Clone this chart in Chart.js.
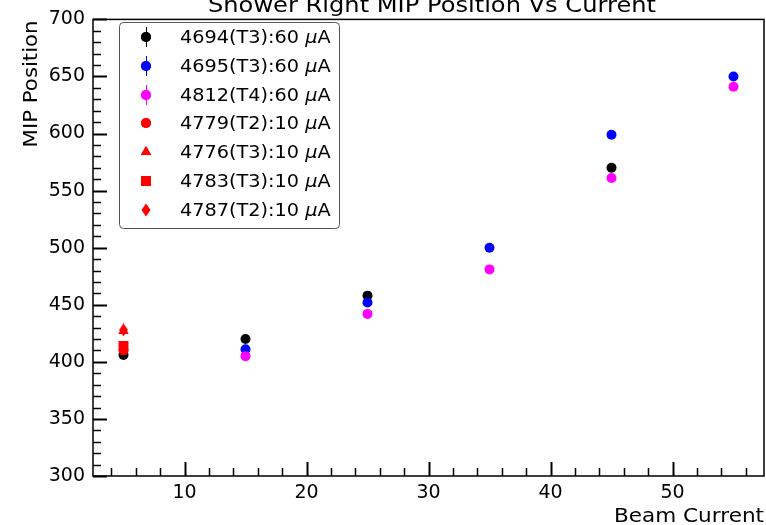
<!DOCTYPE html>
<html>
<head>
<meta charset="utf-8">
<script src="https://cdn.jsdelivr.net/npm/chart.js@4/dist/chart.umd.min.js"></script>
<style>
  html, body { margin: 0; padding: 0; background: #fff; }
  #wrap { width: 766px; height: 525px; }
</style>
</head>
<body>
<div id="wrap"><canvas id="mip"></canvas></div>
<script>
// ---- data ----
var seriesNames = ['4694(T3):60 ', '4695(T3):60 ', '4812(T4):60 ', '4779(T2):10 ', '4776(T3):10 ', '4783(T3):10 ', '4787(T2):10 '];
var seriesColors = ['#000000', '#0000ff', '#ff00ff', '#ff0000', '#ff0000', '#ff0000', '#ff0000'];
var seriesShapes = ['circle', 'circle', 'circle', 'circle', 'triangle', 'rect', 'thinDiamond'];
var seriesRadius = [5, 5, 5, 5, 6, 7, 6];

var run4694x = [5, 15, 25, 45];
var run4694y = [406, 420, 458, 570];
var run4695x = [15, 25, 35, 45, 55];
var run4695y = [411, 452, 500, 599, 650];
var run4812x = [15, 25, 35, 45, 55];
var run4812y = [405, 442, 481, 561, 641];
var run4779x = [5];
var run4779y = [410];
var run4776x = [5];
var run4776y = [427];
var run4783x = [5];
var run4783y = [414];
var run4787x = [5];
var run4787y = [428];

var xTicks = [10, 20, 30, 40, 50];
var yTicks = [300, 350, 400, 450, 500, 550, 600, 650, 700];

var allX = [run4694x, run4695x, run4812x, run4779x, run4776x, run4783x, run4787x];
var allY = [run4694y, run4695y, run4812y, run4779y, run4776y, run4783y, run4787y];

function pts(xs, ys) {
  var out = [];
  for (var i = 0; i < xs.length; i++) out.push({x: xs[i], y: ys[i]});
  return out;
}

// matplotlib style thin diamond marker
function diamondPath(g, x, y) {
  g.beginPath();
  g.moveTo(x, y - 6.5); g.lineTo(x + 4.5, y); g.lineTo(x, y + 6.5); g.lineTo(x - 4.5, y);
  g.closePath();
}
function thinDiamond(color) {
  var c = document.createElement('canvas');
  c.width = 9; c.height = 13;
  var g = c.getContext('2d');
  g.fillStyle = color;
  diamondPath(g, 4.5, 6.5);
  g.fill();
  return c;
}
var diamondImg = thinDiamond('#ff0000');

var datasets = [];
for (var i = 0; i < seriesNames.length; i++) {
  datasets.push({
    label: seriesNames[i],
    data: pts(allX[i], allY[i]),
    pointStyle: seriesShapes[i] === 'thinDiamond' ? diamondImg : seriesShapes[i],
    pointRadius: seriesRadius[i],
    pointHoverRadius: seriesRadius[i],
    backgroundColor: seriesColors[i],
    borderColor: seriesColors[i],
    borderWidth: 0,
    order: -i
  });
}

var FONT = 'DejaVu Sans';

function fitText(ctx, txt, x, y, width) {
  var tw = ctx.measureText(txt).width;
  ctx.save();
  ctx.translate(x, y);
  ctx.scale(width / tw, 1);
  ctx.fillText(txt, 0, 0);
  ctx.restore();
}

// frame, inward ticks, legend box, titles
var decor = {
  id: 'decor',
  afterDraw: function(chart) {
    var ctx = chart.ctx, a = chart.chartArea;
    var xs = chart.scales.x, ys = chart.scales.y;
    ctx.save();
    ctx.strokeStyle = '#000';

    // minor + major ticks, pointing inward
    for (var v = 4; v <= 56; v += 2) {
      var px = Math.round(xs.getPixelForValue(v)) + 0.5;
      var len = (v % 10 === 0) ? 14 : 8;
      ctx.lineWidth = (v % 10 === 0) ? 2 : 1.5;
      ctx.beginPath(); ctx.moveTo(px, a.bottom); ctx.lineTo(px, a.bottom - len); ctx.stroke();
    }
    for (var w = 300; w <= 700; w += 10) {
      var py = Math.round(ys.getPixelForValue(w)) + 0.5;
      var l2 = (w % 50 === 0) ? 14 : 8;
      ctx.lineWidth = (w % 50 === 0) ? 2 : 1.5;
      ctx.beginPath(); ctx.moveTo(a.left, py); ctx.lineTo(a.left + l2, py); ctx.stroke();
    }

    // frame
    ctx.lineWidth = 1.5;
    ctx.strokeRect(a.left, a.top, a.right - a.left, a.bottom - a.top);

    // title (partly cut off at the top, as in the reference)
    ctx.fillStyle = '#000';
    ctx.textAlign = 'left';
    ctx.textBaseline = 'alphabetic';
    ctx.font = '22px ' + FONT;
    fitText(ctx, 'Shower Right MIP Position Vs Current', 208, 12, 448);

    // axis titles
    ctx.font = '20px ' + FONT;
    fitText(ctx, 'Beam Current', 614, 522, 150);
    ctx.save();
    ctx.translate(37, a.top + 128);
    ctx.rotate(-Math.PI / 2);
    fitText(ctx, 'MIP Position', 0, 0, 127);
    ctx.restore();

    // legend box
    var bx = 119, by = 22, bw = 220, bh = 206, r = 4;
    ctx.fillStyle = 'rgba(255,255,255,0.8)';
    ctx.strokeStyle = '#555';
    ctx.lineWidth = 1;
    ctx.beginPath();
    ctx.moveTo(bx + r, by + 0.5);
    ctx.arcTo(bx + bw + 0.5, by + 0.5, bx + bw + 0.5, by + bh, r);
    ctx.arcTo(bx + bw + 0.5, by + bh + 0.5, bx, by + bh + 0.5, r);
    ctx.arcTo(bx + 0.5, by + bh + 0.5, bx + 0.5, by, r);
    ctx.arcTo(bx + 0.5, by + 0.5, bx + bw, by + 0.5, r);
    ctx.closePath();
    ctx.fill();
    ctx.stroke();

    ctx.textBaseline = 'middle';
    ctx.textAlign = 'left';
    for (var k = 0; k < seriesNames.length; k++) {
      var cy = Math.round(37 + k * 28.8), cx = 146;
      ctx.fillStyle = seriesColors[k];
      ctx.strokeStyle = seriesColors[k];
      if (k < 3) {
        ctx.lineWidth = 1;
        ctx.beginPath(); ctx.moveTo(cx + 0.5, cy - 10); ctx.lineTo(cx + 0.5, cy + 10); ctx.stroke();
      }
      if (seriesShapes[k] === 'thinDiamond') {
        diamondPath(ctx, cx, cy);
        ctx.fill();
      } else {
        Chart.helpers.drawPoint(ctx, {pointStyle: seriesShapes[k], radius: seriesRadius[k], borderWidth: 0}, cx, cy);
        ctx.fill();
      }
      ctx.fillStyle = '#000';
      ctx.font = '18px ' + FONT;
      var s1 = seriesNames[k];
      ctx.save();
      ctx.translate(180, cy + 1);
      ctx.scale(1.07, 1);
      ctx.fillText(s1, 0, 0);
      var w1 = ctx.measureText(s1).width;
      ctx.font = 'italic 18px ' + FONT;
      ctx.fillText('\u03bc', w1, 0);
      var w2 = ctx.measureText('\u03bc').width;
      ctx.font = '18px ' + FONT;
      ctx.fillText('A', w1 + w2, 0);
      ctx.restore();
    }
    ctx.restore();
  }
};

new Chart(document.getElementById('mip'), {
  type: 'scatter',
  data: { datasets: datasets },
  options: {
    responsive: true,
    maintainAspectRatio: false,
    animation: false,
    layout: { autoPadding: false, padding: { top: 17, right: 2, left: 0, bottom: 0 } },
    plugins: {
      legend: { display: false },
      tooltip: { enabled: false },
      title: { display: false }
    },
    scales: {
      x: {
        type: 'linear',
        min: 2.5,
        max: 57.5,
        grid: { display: false, drawTicks: false },
        border: { display: false },
        afterFit: function(s) { s.height = 49; },
        afterBuildTicks: function(s) { s.ticks = xTicks.map(function(v) { return {value: v}; }); },
        ticks: { padding: 6, color: '#000', font: { family: FONT, size: 19 } }
      },
      y: {
        type: 'linear',
        min: 300,
        max: 700,
        grid: { display: false, drawTicks: false },
        border: { display: false },
        afterFit: function(s) { s.width = 93; },
        afterBuildTicks: function(s) { s.ticks = yTicks.map(function(v) { return {value: v}; }); },
        ticks: { padding: 8, color: '#000', font: { family: FONT, size: 19 } }
      }
    }
  },
  plugins: [decor]
});
</script>
</body>
</html>
